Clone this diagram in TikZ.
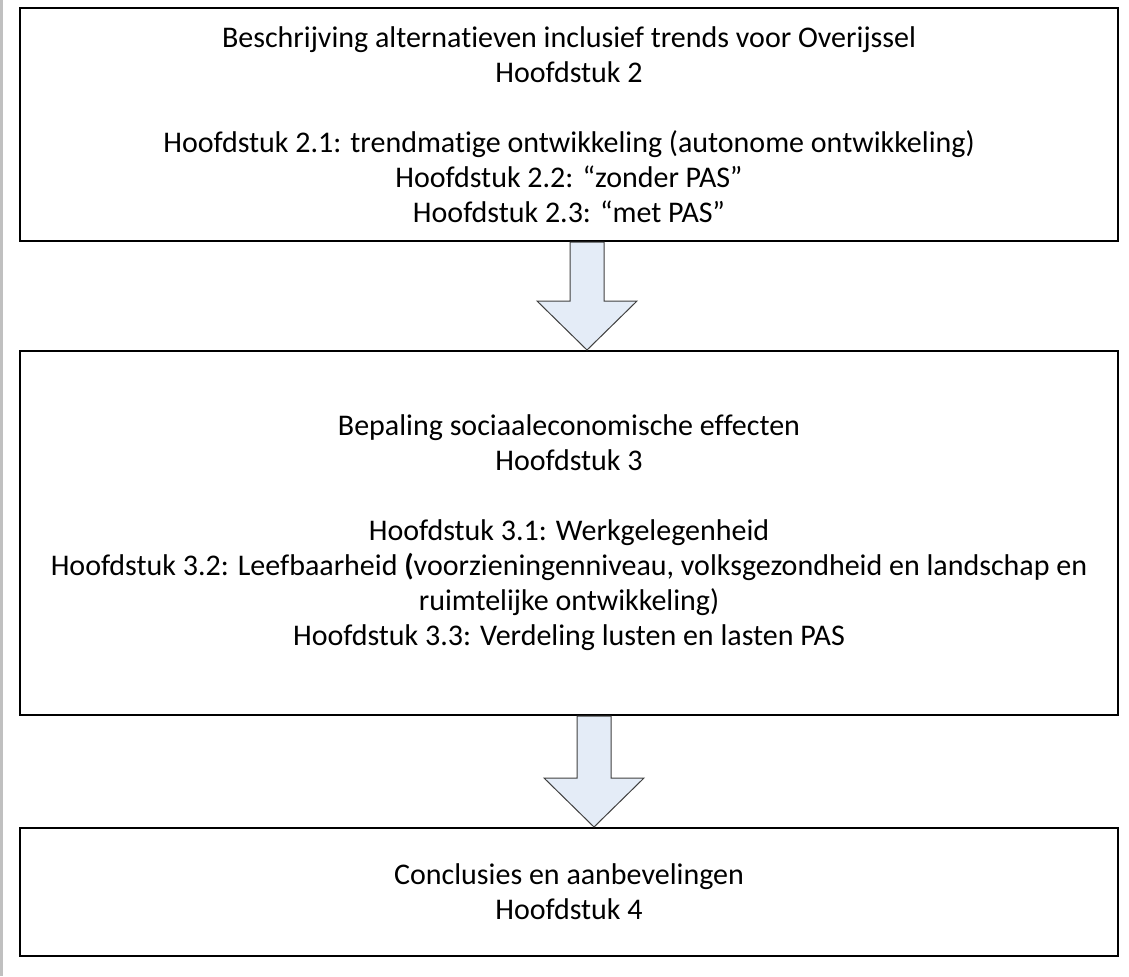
\documentclass[tikz,border=0pt]{standalone}
\usepackage{fontspec}
\setmainfont{Carlito}[Ligatures=NoCommon]
\usepackage{tikz}
\usetikzlibrary{calc}
\definecolor{sidebar}{RGB}{192,192,192}
\definecolor{arrowblue}{RGB}{228,236,247}

\begin{document}
\begin{tikzpicture}[x=0.5pt,y=-0.5pt,
    box/.style={draw=black,line width=1pt,minimum width=549pt,align=center,
      inner sep=0pt,font=\fontsize{15}{17.5}\selectfont},
    blockarrow/.style={fill=arrowblue,draw=black!75,line width=0.5pt,line join=miter}]
  \useasboundingbox (0,0) rectangle (1129,976);
  % grey bar on the left
  \fill[sidebar](0,0) rectangle (3,976);
  % boxes
  \node[box,minimum height=116.5pt](hst2) at (569,124.5){%
    Beschrijving alternatieven inclusief trends voor Overijssel\\
    Hoofdstuk 2\\[17.5pt]
    Hoofdstuk 2.1: trendmatige ontwikkeling (autonome ontwikkeling)\\
    Hoofdstuk 2.2: “zonder PAS”\\
    Hoofdstuk 2.3: “met PAS”};
  \node[box,minimum height=182pt](hst3) at (569,533){%
    Bepaling sociaaleconomische effecten\\
    Hoofdstuk 3\\[17.5pt]
    Hoofdstuk 3.1: Werkgelegenheid\\
    Hoofdstuk 3.2: Leefbaarheid \textbf{(}voorzieningenniveau, volksgezondheid en landschap en\\
    ruimtelijke ontwikkeling)\\
    Hoofdstuk 3.3: Verdeling lusten en lasten PAS};
  \node[box,minimum height=64pt](hst4) at (569,892){%
    Conclusies en aanbevelingen\\
    Hoofdstuk 4};
  % block arrows
  \foreach \from/\to/\dx in {hst2/hst3/18, hst3/hst4/25}{
    \draw[blockarrow] let \p1=($(\from.south)+(\dx,0)$), \p2=($(\to.north)+(\dx,0)$) in
      (\x1-8.5pt,\y1) -- (\x1-8.5pt,\y2+24.5pt) -- (\x1-25pt,\y2+24.5pt) -- (\x1,\y2)
      -- (\x1+25pt,\y2+24.5pt) -- (\x1+8.5pt,\y2+24.5pt) -- (\x1+8.5pt,\y1) -- cycle;}
\end{tikzpicture}
\end{document}
